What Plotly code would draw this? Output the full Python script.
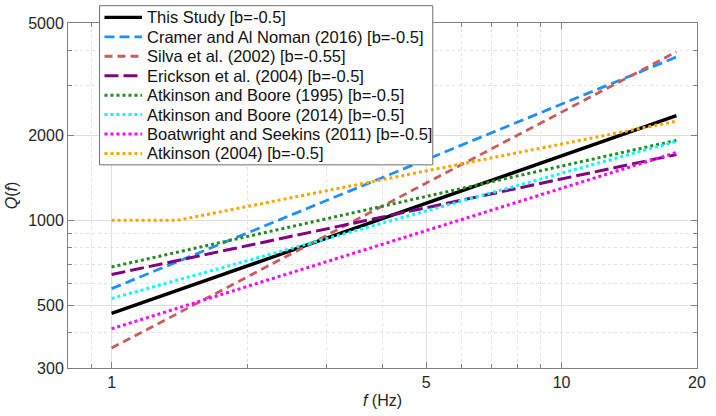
import plotly.graph_objects as go

# Frequencies (Hz) at line ends
f_pts = [1.0, 18.0]

names = [
    "This Study [b=-0.5]",
    "Cramer and Al Noman (2016) [b=-0.5]",
    "Silva et al. (2002) [b=-0.55]",
    "Erickson et al. (2004) [b=-0.5]",
    "Atkinson and Boore (1995) [b=-0.5]",
    "Atkinson and Boore (2014) [b=-0.5]",
    "Boatwright and Seekins (2011) [b=-0.5]",
]
q_values = [
    [468, 2350],
    [573, 3790],
    [353, 3950],
    [643, 1710],
    [684, 1920],
    [529, 1905],
    [413, 1740],
]
# Atkinson (2004): constant then rising
atk_f = [1.0, 1.4, 18.0]
atk_q = [1000, 1000, 2245]
atk_name = "Atkinson (2004) [b=-0.5]"

colors = ["#000000", "#1E90FF", "#CD5C5C", "#800080", "#228B22", "#00FFFF", "#FF00FF", "#FFA500"]
dashes = ["solid", "10px,5px", "8px,5px", "14px,5px", "3px,3px", "3px,3px", "3px,3px", "3px,3px"]
widths = [3.4, 2.8, 2.8, 3.0, 3.0, 3.0, 3.0, 3.0]

x_ticks = [1, 5, 10, 20]
x_minor = [0.8, 0.9, 2, 3, 4, 6, 7, 8, 9]
y_ticks = [300, 500, 1000, 2000, 5000]
y_minor = [400, 600, 700, 800, 900, 3000, 4000]

W, H = 716, 416
ML, MR, MT, MB = 68, 10, 23, 44
PW, PH = W - ML - MR, H - MT - MB

def px(x):
    return (x - ML) / PW

def py(y):
    return (H - MB - y) / PH

all_names = names + [atk_name]
all_f = [f_pts] * len(names) + [atk_f]
all_q = q_values + [atk_q]

fig = go.Figure()
for n, f, q, c, d, w in zip(all_names, all_f, all_q, colors, dashes, widths):
    fig.add_trace(go.Scatter(x=f, y=q, mode="lines", name=n, showlegend=False,
                             line=dict(color=c, dash=d, width=w)))

font = "Liberation Sans, Arial, sans-serif"

# Manual legend (box, line samples, labels)
shapes = [dict(type="rect", xref="paper", yref="paper",
               x0=px(100), x1=px(438), y0=py(166.5), y1=py(5.5),
               fillcolor="white", line=dict(color="#707070", width=1), layer="above")]
annotations = []
row0, row_step = 17.3, 19.67
for i, (n, c, d, w) in enumerate(zip(all_names, colors, dashes, widths)):
    yy = row0 + i * row_step
    shapes.append(dict(type="line", xref="paper", yref="paper",
                       x0=px(105), x1=px(143), y0=py(yy), y1=py(yy),
                       line=dict(color=c, dash=d, width=w), layer="above"))
    annotations.append(dict(xref="paper", yref="paper", x=px(146), y=py(yy),
                            text=n, showarrow=False, xanchor="left", yanchor="middle",
                            font=dict(size=16.5, color="#111111", family=font)))

axis_common = dict(
    type="log", showline=True, linecolor="#808080", linewidth=1, mirror="allticks",
    ticks="inside", ticklen=6, tickcolor="#808080", tickwidth=1,
    showgrid=True, gridcolor="#E0E0E0", gridwidth=1, zeroline=False,
    tickfont=dict(size=16, color="#262626", family=font),
)
fig.update_layout(
    width=W, height=H,
    margin=dict(l=ML, r=MR, t=MT, b=MB),
    plot_bgcolor="white", paper_bgcolor="white",
    font=dict(family=font, color="#262626"),
    xaxis=dict(**axis_common, range=[-0.09691, 1.30103],
               tickmode="array", tickvals=x_ticks, ticktext=[str(v) for v in x_ticks],
               title=dict(text="<i>f</i> (Hz)", font=dict(size=16), standoff=4),
               minor=dict(tickvals=x_minor, ticks="inside", ticklen=4, tickcolor="#808080",
                          showgrid=True, gridcolor="#E2E2E2", griddash="dot")),
    yaxis=dict(**axis_common, range=[2.47712, 3.69897],
               tickmode="array", tickvals=y_ticks, ticktext=[str(v) for v in y_ticks],
               title=dict(text="<i>Q</i>(<i>f</i>)", font=dict(size=16), standoff=6),
               minor=dict(tickvals=y_minor, ticks="inside", ticklen=4, tickcolor="#808080",
                          showgrid=True, gridcolor="#E2E2E2", griddash="dot")),
    shapes=shapes,
    annotations=annotations,
    showlegend=False,
)
fig.write_html("out.html")
